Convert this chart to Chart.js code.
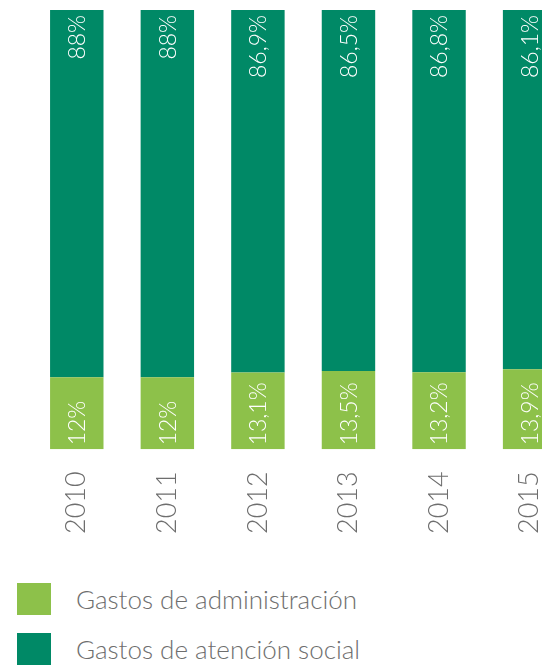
<!DOCTYPE html>
<html>
<head>
<meta charset="utf-8">
<script src="https://cdn.jsdelivr.net/npm/chart.js@4/dist/chart.umd.min.js"></script>
<style>
  html, body { margin: 0; padding: 0; background: #fff; overflow: hidden; width: 542px; height: 668px; }
  #wrap { position: absolute; left: 0; top: 0; width: 584px; height: 556px; }
  .legend { position: absolute; left: 17px; font-family: Lato, sans-serif; font-weight: 300; font-size: 26px; color: #6e6e6e; }
  .legend-item { position: absolute; left: 0; height: 32px; white-space: nowrap; }
  .legend-item span.box { position: absolute; left: 0; top: 0; width: 34px; height: 32px; }
  .legend-item span.txt { position: absolute; left: 59px; top: 0; line-height: 32px; }
</style>
</head>
<body>
<div id="wrap"><canvas id="bars"></canvas></div>
<div class="legend" id="legend"></div>
<script>
// Distribution of expenses per year (percent)
const years = ['2010', '2011', '2012', '2013', '2014', '2015'];
const adminShare = [12, 12, 13.1, 13.5, 13.2, 13.9];
const socialShare = [88, 88, 86.9, 86.5, 86.8, 86.1];

const seriesNames = ['Gastos de administración', 'Gastos de atención social'];
const seriesColors = ['#8dc14a', '#008966'];

// floor of the value axis, the lower segment starts here
const axisFloor = -5.3;

const fmtPct = v => String(v).replace('.', ',') + '%';

// White rotated percentages inside each bar
const barLabels = {
    id: 'barLabels',
    afterDatasetsDraw(chart) {
        const ctx = chart.ctx;
        ctx.save();
        ctx.fillStyle = '#ffffff';
        ctx.font = '300 23px Lato, sans-serif';
        ctx.textBaseline = 'middle';
        chart.data.datasets.forEach((ds, di) => {
            const meta = chart.getDatasetMeta(di);
            meta.data.forEach((bar, i) => {
                const top = Math.min(bar.y, bar.base);
                const bottom = Math.max(bar.y, bar.base);
                ctx.save();
                if (di === 1) {
                    ctx.translate(bar.x, top + 5);
                    ctx.rotate(-Math.PI / 2);
                    ctx.textAlign = 'right';
                } else {
                    ctx.translate(bar.x, bottom - 4);
                    ctx.rotate(-Math.PI / 2);
                    ctx.textAlign = 'left';
                }
                ctx.fillText(fmtPct(ds.data[i]), 0, 1);
                ctx.restore();
            });
        });
        ctx.restore();
    }
};

const data = {
    labels: years,
    datasets: [{
        label: seriesNames[0],
        data: adminShare,
        backgroundColor: seriesColors[0],
        base: axisFloor
    }, {
        label: seriesNames[1],
        data: socialShare,
        backgroundColor: seriesColors[1]
    }]
};

const config = {
    type: 'bar',
    data: data,
    options: {
        responsive: true,
        maintainAspectRatio: false,
        animation: false,
        layout: { padding: { top: 10, left: 31.5, right: 0, bottom: 0 } },
        datasets: { bar: { categoryPercentage: 1, barPercentage: 0.59 } },
        plugins: { legend: { display: false }, tooltip: { enabled: false } },
        scales: {
            x: {
                stacked: true,
                grid: { display: false, drawTicks: false },
                border: { display: false },
                ticks: {
                    minRotation: 90,
                    maxRotation: 90,
                    padding: 22,
                    color: '#6e6e6e',
                    font: { family: 'Lato, sans-serif', size: 27, weight: 300 }
                }
            },
            y: {
                stacked: true,
                display: false,
                min: axisFloor,
                max: 100
            }
        }
    },
    plugins: [barLabels]
};

const chart = new Chart(document.getElementById('bars'), config);

// Legend, one item per row
const legend = document.getElementById('legend');
seriesNames.forEach((name, i) => {
    const item = document.createElement('div');
    item.className = 'legend-item';
    item.style.top = (583 + i * 50) + 'px';
    item.innerHTML = '<span class="box" style="background:' + seriesColors[i] + '"></span><span class="txt">' + name + '</span>';
    legend.appendChild(item);
});
</script>
</body>
</html>
